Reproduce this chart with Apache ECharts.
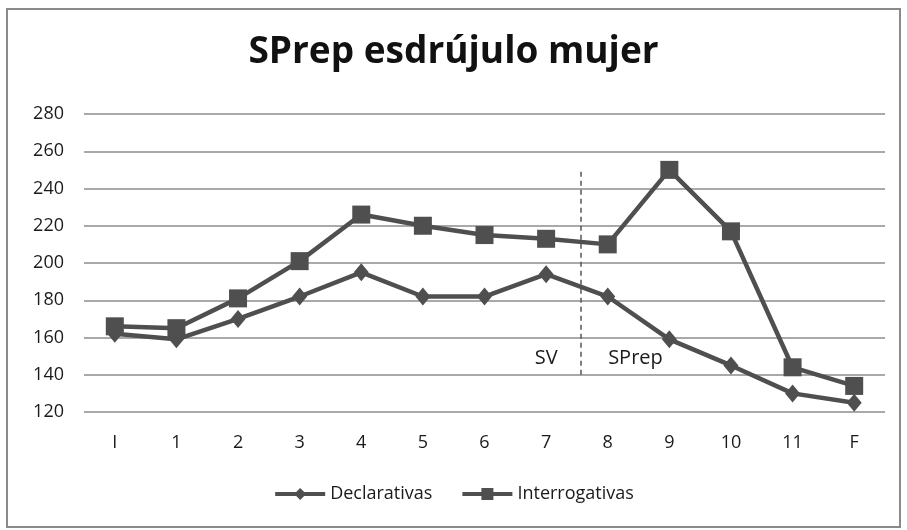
<!DOCTYPE html>
<html>
<head>
<meta charset="utf-8">
<script src="https://cdn.jsdelivr.net/npm/echarts@6/dist/echarts.min.js"></script>
<style>
  html, body { margin: 0; padding: 0; background: #fff; }
  #main { width: 907px; height: 530px; }
</style>
</head>
<body>
<div id="main"></div>
<script>
var categories = ['I', '1', '2', '3', '4', '5', '6', '7', '8', '9', '10', '11', 'F'];
var declarativas = [162, 159, 170, 182, 195, 182, 182, 194, 182, 159, 145, 130, 125];
var interrogativas = [166, 165, 181, 201, 226, 220, 215, 213, 210, 250, 217, 144, 134];
var yTicks = [120, 140, 160, 180, 200, 220, 240, 260, 280];

// separador SV / SPrep (posición en unidades de categoría)
var divider = 8.06;
var dividerRange = [140, 249];
var zoneLabels = [
    { name: 'SV', x: 7.5, y: 149 },
    { name: 'SPrep', x: 8.95, y: 149 }
];

var app = echarts.init(document.getElementById('main'));
var lineColor = '#4f4f4f';
var font = '"Open Sans", sans-serif';

option = {
    backgroundColor: '#fff',
    animation: false,
    title: {
        text: 'SPrep esdrújulo mujer',
        left: 'center',
        top: 29,
        textStyle: {
            fontFamily: font,
            fontSize: 37,
            fontWeight: 'bold',
            color: '#111'
        }
    },
    graphic: [{
        type: 'rect',
        shape: { x: 7, y: 9, width: 893, height: 518 },
        style: { fill: 'none', stroke: '#8a8a8a', lineWidth: 2 },
        silent: true
    }],
    legend: {
        bottom: 22,
        left: 'center',
        itemWidth: 50,
        itemHeight: 15,
        itemGap: 28,
        lineStyle: { width: 4 },
        textStyle: { fontFamily: font, fontSize: 18, color: '#1a1a1a' },
        data: ['Declarativas', 'Interrogativas']
    },
    grid: { left: 84, right: 22, top: 114, bottom: 118 },
    xAxis: [{
        type: 'category',
        data: categories,
        boundaryGap: true,
        axisLine: { show: false },
        axisTick: { show: false },
        axisLabel: { fontFamily: font, fontSize: 18, color: '#1a1a1a', margin: 22 }
    }, {
        type: 'value',
        min: 0,
        max: categories.length,
        show: false
    }],
    yAxis: {
        type: 'value',
        min: yTicks[0],
        max: yTicks[yTicks.length - 1],
        interval: 20,
        axisLine: { show: false },
        axisTick: { show: false },
        axisLabel: { fontFamily: font, fontSize: 18, color: '#1a1a1a', margin: 20 },
        splitLine: { lineStyle: { color: '#8c8c8c', width: 1.5 } }
    },
    series: [
        {
            name: 'Declarativas',
            type: 'line',
            data: declarativas,
            symbol: 'diamond',
            symbolSize: [15, 18],
            itemStyle: { color: lineColor },
            lineStyle: { color: lineColor, width: 4.5 },
            z: 3
        },
        {
            name: 'Interrogativas',
            type: 'line',
            data: interrogativas,
            symbol: 'rect',
            symbolSize: 18,
            itemStyle: { color: lineColor },
            lineStyle: { color: lineColor, width: 4.5 },
            z: 4
        },
        {
            name: 'zonas',
            type: 'line',
            xAxisIndex: 1,
            data: [],
            silent: true,
            markLine: {
                symbol: 'none',
                silent: true,
                label: { show: false },
                lineStyle: { color: '#555', type: [5, 4], width: 1.5 },
                data: [[
                    { coord: [divider, dividerRange[1]] },
                    { coord: [divider, dividerRange[0]] }
                ]]
            },
            markPoint: {
                symbol: 'circle',
                symbolSize: 0,
                silent: true,
                label: {
                    show: true,
                    position: 'inside',
                    formatter: '{b}',
                    fontFamily: font,
                    fontSize: 20,
                    color: '#1a1a1a'
                },
                data: zoneLabels.map(function (z) {
                    return { name: z.name, coord: [z.x, z.y] };
                })
            }
        }
    ]
};

app.setOption(option);
</script>
</body>
</html>
